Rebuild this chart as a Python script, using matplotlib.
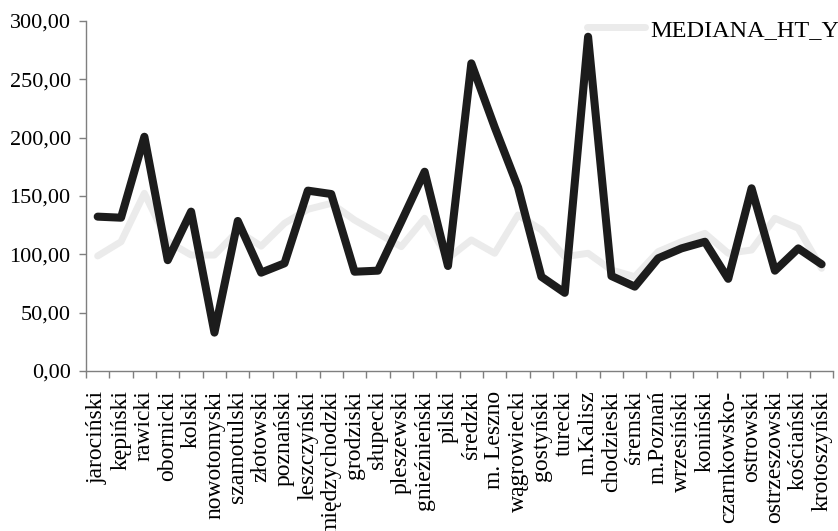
import numpy as np
import matplotlib.pyplot as plt
from matplotlib.ticker import FixedLocator, FuncFormatter

plt.rcParams["font.family"] = ["Liberation Serif", "DejaVu Serif"]

# powiaty (counties) in Wielkopolska
powiaty = [
    "jarociński", "kępiński", "rawicki", "obornicki", "kolski", "nowotomyski",
    "szamotulski", "złotowski", "poznański", "leszczyński", "międzychodzki",
    "grodziski", "słupecki", "pleszewski", "gnieźnieński", "pilski", "średzki",
    "m. Leszno", "wągrowiecki", "gostyński", "turecki", "m.Kalisz",
    "chodzieski", "śremski", "m.Poznań", "wrzesiński", "koniński",
    "czarnkowsko-", "ostrowski", "ostrzeszowski", "kościański", "krotoszyński",
]

# series values
wartosc = [
    132.3, 131.4, 200.8, 95.0, 136.6, 32.9, 128.6, 84.3, 92.3, 154.6, 151.7,
    85.1, 86.0, 128.0, 170.8, 90.0, 263.7, 209.0, 157.5, 80.8, 67.0, 286.5,
    81.4, 72.3, 96.6, 105.1, 110.8, 79.0, 156.6, 86.0, 105.1, 91.5,
]
mediana_ht_y = [
    98.6, 110.8, 152.3, 111.0, 99.4, 99.4, 120.0, 107.0, 126.6, 138.6, 143.7,
    129.4, 118.0, 106.6, 130.9, 96.6, 112.3, 100.9, 133.7, 120.9, 98.0, 100.9,
    86.6, 80.8, 102.3, 110.8, 118.0, 100.9, 103.7, 130.9, 122.3, 88.0,
]

yticks = [0, 50, 100, 150, 200, 250, 300]

fig = plt.figure(figsize=(8.38, 5.31), dpi=100)
ax = fig.add_axes([86 / 838, 160 / 531, (833.3 - 86) / 838, 350 / 531])

x = np.arange(len(powiaty))
(gray_line,) = ax.plot(x, mediana_ht_y, color="#ebebeb", lw=5.0,
                       solid_capstyle="round", solid_joinstyle="round",
                       label="MEDIANA_HT_Y", zorder=2)
ax.plot(x, wartosc, color="#1c1c1c", lw=5.8,
        solid_capstyle="round", solid_joinstyle="round", zorder=3)

ax.set_xlim(-0.5, len(powiaty) - 0.5)
ax.set_ylim(0, 300)

ax.set_yticks(yticks)
ax.yaxis.set_major_formatter(FuncFormatter(lambda v, p: f"{v:.2f}".replace(".", ",")))
ax.tick_params(axis="y", direction="out", length=5, width=1, color="#7f7f7f",
               labelsize=16, pad=6)

# category labels centred, tick marks on the boundaries
ax.set_xticks(x)
ax.set_xticklabels(powiaty, rotation=90, va="top", ha="center", fontsize=17)
ax.tick_params(axis="x", which="major", length=0, pad=14)
ax.xaxis.set_minor_locator(FixedLocator(np.arange(len(powiaty) + 1) - 0.5))
ax.tick_params(axis="x", which="minor", direction="out", length=5, width=1,
               color="#7f7f7f")

for side in ("top", "right"):
    ax.spines[side].set_visible(False)
for side in ("left", "bottom"):
    ax.spines[side].set_color("#7f7f7f")
    ax.spines[side].set_linewidth(1)

fig.legend(handles=[gray_line], loc="upper left",
           bbox_to_anchor=(582 / 838, 1 - 14 / 531), frameon=False,
           fontsize=17.5, handlelength=2.4, handletextpad=0.2,
           borderaxespad=0, borderpad=0.2)

fig.savefig("out.png", dpi=100)
